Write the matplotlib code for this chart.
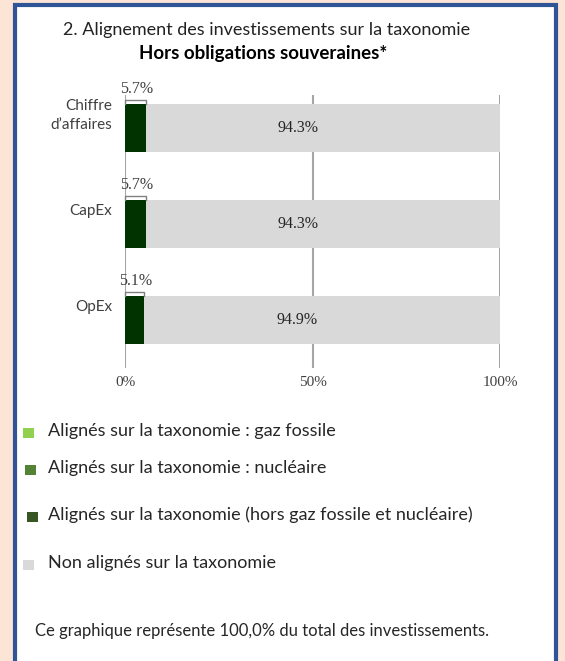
import matplotlib.pyplot as plt
from matplotlib.patches import Rectangle

# données
categories = ['Chiffre\nd\u2019affaires', 'CapEx', 'OpEx']
aligned = [5.7, 5.7, 5.1]
non_aligned = [94.3, 94.3, 94.9]
xticks = [0, 50, 100]
xtick_labels = ['0%', '50%', '100%']

legend_labels = ['Alignés sur la taxonomie : gaz fossile',
                 'Alignés sur la taxonomie : nucléaire',
                 'Alignés sur la taxonomie (hors gaz fossile et nucléaire)',
                 'Non alignés sur la taxonomie']
legend_colors = ['#92D050', '#548235', '#375623', '#D9D9D9']

W, H = 565, 661
sans = ['Lato', 'DejaVu Sans']
serif = ['Liberation Serif', 'DejaVu Serif']

fig = plt.figure(figsize=(W / 100, H / 100), dpi=100)
fig.patch.set_facecolor('#FCE4D6')

# cadre blanc bordé de bleu
fig.patches.append(Rectangle((15 / W, -0.02), 541 / W, (H - 5) / H + 0.02, transform=fig.transFigure,
                             facecolor='white', edgecolor='#2F5597', linewidth=3, zorder=-10))

def fy(py):
    return 1 - py / H

fig.text(267 / W, fy(30), '2. Alignement des investissements sur la taxonomie',
         ha='center', va='center', fontsize=13, family=sans, color='#222222')
fig.text(263 / W, fy(53), 'Hors obligations souveraines*',
         ha='center', va='center', fontsize=13.5, family=sans, fontweight='bold', color='black')

# graphique
ax_top, ax_bot = 95, 368
ax = fig.add_axes([125 / W, fy(ax_bot), 375 / W, (ax_bot - ax_top) / H])
ax.set_facecolor('none')
ypos = list(range(len(categories)))
ax.barh(ypos, aligned, height=0.5, color='#003300', zorder=2)
ax.barh(ypos, non_aligned, left=aligned, height=0.5, color='#D9D9D9', zorder=2)
ax.set_xlim(0, 100)
ax.set_ylim(2.5, -0.34)

for x in xticks:
    ax.axvline(x, color='#A6A6A6', linewidth=1.5, zorder=1)

for i, (a, n) in enumerate(zip(aligned, non_aligned)):
    # petite accolade + étiquette
    yb = i - 0.29
    ax.plot([0, 0, a, a], [i - 0.25, yb, yb, i - 0.25], color='#808080', linewidth=1.0,
            zorder=3, clip_on=False)
    ax.text(a / 2 + 0.2, i - 0.40, f'{a:.1f}%', ha='center', va='center', fontsize=11.5,
            family=serif, color='#404040', clip_on=False)
    ax.text(46, i, f'{n:.1f}%', ha='center', va='center', fontsize=11.5,
            family=serif, color='#262626', zorder=4)

# libellés des catégories (un peu au-dessus du centre des barres)
for i, cat in enumerate(categories):
    ax.text(-0.035, i - 0.13, cat, transform=ax.get_yaxis_transform(), ha='right', va='center',
            fontsize=11, family=sans, color='#404040', linespacing=1.45)

ax.set_xticks(xticks)
ax.set_xticklabels(xtick_labels, family=serif, fontsize=11, color='#404040')
ax.set_yticks([])
ax.tick_params(axis='both', length=0, pad=6)
for s in ax.spines.values():
    s.set_visible(False)

# légende
leg_y = [433, 470, 517, 565]
sq_x = [23, 25, 27, 23]
for lab, col, y, sx in zip(legend_labels, legend_colors, leg_y, sq_x):
    fig.patches.append(Rectangle((sx / W, fy(y + 5)), 10.5 / W, 10.5 / H, transform=fig.transFigure,
                                 facecolor=col, edgecolor='none'))
    fig.text(48 / W, fy(y - 2), lab, ha='left', va='center', fontsize=13, family=sans,
             color='#262626')

fig.text(262 / W, fy(631), 'Ce graphique représente 100,0% du total des investissements.',
         ha='center', va='center', fontsize=12, family=sans, color='#262626')

fig.savefig('out.png', dpi=100, facecolor=fig.get_facecolor())
